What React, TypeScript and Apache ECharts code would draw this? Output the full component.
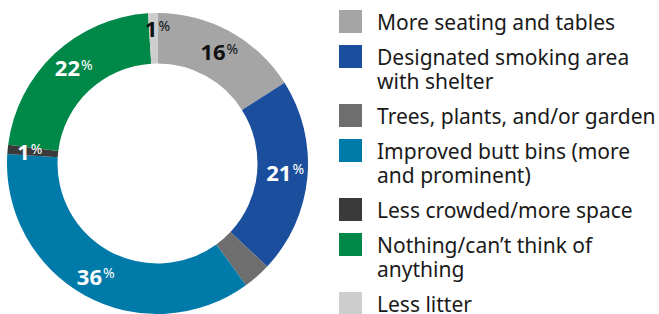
import React, { useEffect, useRef } from "react";
import * as echarts from "echarts";

const categories = [
  "More seating and tables",
  "Designated smoking area with shelter",
  "Trees, plants, and/or garden",
  "Improved butt bins (more and prominent)",
  "Less crowded/more space",
  "Nothing/can’t think of anything",
  "Less litter",
];
const legendLabels = [
  "More seating and tables",
  "Designated smoking area\nwith shelter",
  "Trees, plants, and/or garden",
  "Improved butt bins (more\nand prominent)",
  "Less crowded/more space",
  "Nothing/can’t think of\nanything",
  "Less litter",
];
const values = [16, 21, 3, 36, 1, 22, 1];
const showLabel = [true, true, false, true, true, true, true];

const colors = ["#a5a5a5", "#1b4f9d", "#6e6e6e", "#007aa9", "#3a3a3a", "#008849", "#cdcdcd"];
const labelColors = ["#111111", "#ffffff", "#ffffff", "#ffffff", "#ffffff", "#ffffff", "#111111"];
const labelOffsets: number[][] = [[0, 0], [0, -4], [0, 0], [0, 0], [0, 0], [4, -3], [4, -7]];

function buildLegend() {
  const elements: any[] = [];
  let top = 10;
  legendLabels.forEach((txt, i) => {
    const lines = txt.split("\n");
    elements.push({
      type: "rect",
      shape: { x: 339, y: top, width: 23, height: 23 },
      style: { fill: colors[i] },
      silent: true,
    });
    lines.forEach((line, j) => {
      elements.push({
        type: "text",
        x: 377,
        y: top + 11.5 + j * 24,
        style: {
          text: line,
          fontFamily: "Noto Sans",
          fontSize: 21,
          lineHeight: 24,
          fill: "#1a1a1a",
          verticalAlign: "middle",
          align: "left",
        },
        silent: true,
      });
    });
    top += lines.length * 24 + 11;
  });
  return elements;
}

export default function App() {
  const ref = useRef<HTMLDivElement>(null);
  useEffect(() => {
    document.body.style.margin = "0";
    if (!ref.current) return;
    const chart = echarts.init(ref.current, undefined, { renderer: "svg" });
    chart.setOption({
      animation: false,
      backgroundColor: "#ffffff",
      graphic: buildLegend(),
      series: [
        {
          type: "pie",
          center: [157.5, 163.5],
          radius: [100, 150.5],
          startAngle: 90,
          clockwise: true,
          avoidLabelOverlap: false,
          emphasis: { disabled: true },
          itemStyle: { borderWidth: 0 },
          label: {
            show: true,
            position: "inside",
            formatter: (p: any) => `{v|${p.value}}{p|%}`,
            rich: {
              v: { fontFamily: "Noto Sans", fontWeight: "bold", fontSize: 22, lineHeight: 24 },
              p: { fontFamily: "Noto Sans", fontSize: 14, lineHeight: 14, verticalAlign: "top", padding: [2, 0, 0, 1] },
            },
          },
          labelLine: { show: false },
          data: categories.map((n, i) => ({
            name: n,
            value: values[i],
            itemStyle: { color: colors[i] },
            label: { show: showLabel[i], color: labelColors[i], offset: labelOffsets[i] },
          })),
        },
      ],
    });
    return () => chart.dispose();
  }, []);
  return <div ref={ref} style={{ width: 659, height: 314 }} />;
}
